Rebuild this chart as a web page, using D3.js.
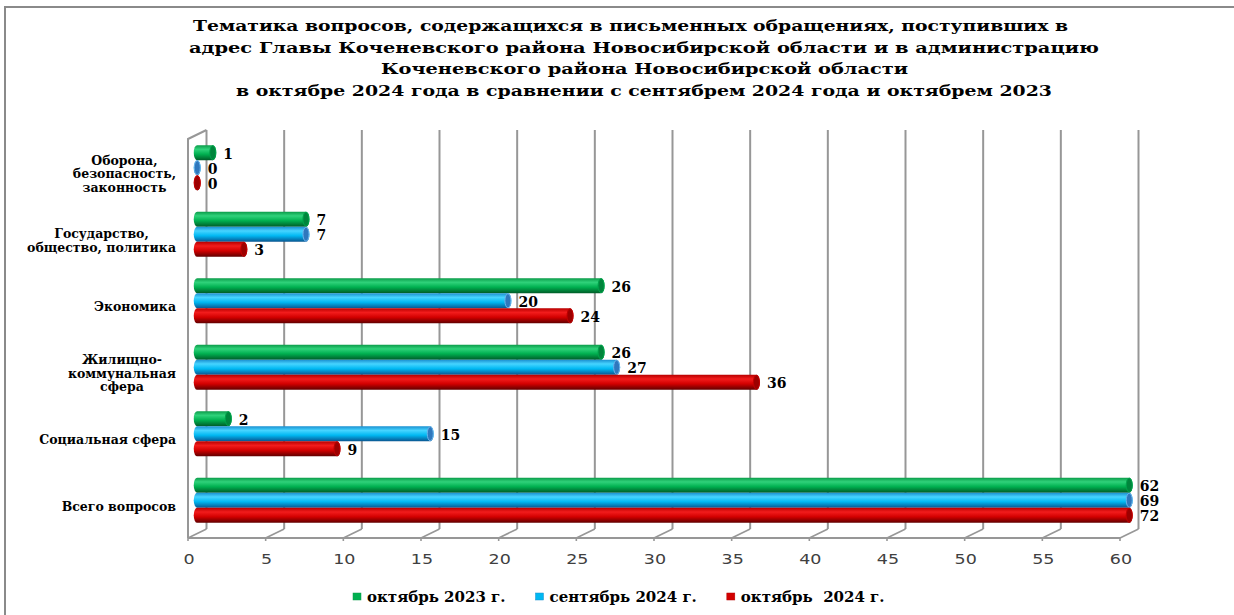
<!DOCTYPE html>
<html>
<head>
<meta charset="utf-8">
<script src="https://cdn.jsdelivr.net/npm/d3@7/dist/d3.min.js"></script>
<style>
    html, body { margin: 0; padding: 0; background: #fff; }
    svg { display: block; }
</style>
</head>
<body>
<div id="chart"></div>
<script>
// Chart data
const titleLines = [
    'Тематика вопросов, содержащихся в письменных обращениях, поступивших в',
    'адрес Главы Коченевского района Новосибирской области и в администрацию',
    'Коченевского района Новосибирской области',
    'в октябре 2024 года в сравнении с сентябрем 2024 года и октябрем 2023'
];
const categoryLines = [
    ['Оборона,', 'безопасность,', 'законность'],
    ['Государство,', 'общество, политика'],
    ['Экономика'],
    ['Жилищно-', 'коммунальная', 'сфера'],
    ['Социальная сфера'],
    ['Всего вопросов']
];
const seriesNames = ['октябрь 2023 г.', 'сентябрь 2024 г.', 'октябрь  2024 г.'];
const oct2023 = [1, 7, 26, 26, 2, 62];
const sep2024 = [0, 7, 20, 27, 15, 69];
const oct2024 = [0, 3, 24, 36, 9, 72];
const xTicks = [0, 5, 10, 15, 20, 25, 30, 35, 40, 45, 50, 55, 60];

class CylinderBarChart {
    constructor(container) {
        this.container = container;
        this.width = 1234;
        this.height = 615;
        this.series = [oct2023, sep2024, oct2024];
        // light / mid / dark / cap colours per series
        this.palette = [
            { top: '#0a9a48', hi: '#2fd27a', mid: '#00b050', low: '#005c28', cap: '#00853c', capStroke: '#00a24a' },
            { top: '#1a8fd0', hi: '#46d4ff', mid: '#00b8f2', low: '#0a5590', cap: '#2f78bd', capStroke: '#6cb2ea' },
            { top: '#b80000', hi: '#f21c1c', mid: '#d20000', low: '#5e0000', cap: '#9c0000', capStroke: '#c00000' }
        ];
        this.depthX = 18.5;
        this.depthY = -9;
        this.floorY = 538;
        this.wallTop = 139;
        this.init();
    }

    init() {
        this.setupSVG();
        this.setupScales();
        this.drawTitle();
        this.drawAxes();
        this.drawBars();
        this.drawCategoryLabels();
        this.drawLegend();
    }

    setupSVG() {
        this.container.innerHTML = '';
        this.svg = d3.select(this.container)
            .append('svg')
            .attr('width', this.width)
            .attr('height', this.height);

        // outer chart frame
        this.svg.append('rect')
            .attr('x', 5).attr('y', 7)
            .attr('width', 1260).attr('height', 640)
            .attr('fill', '#fff')
            .attr('stroke', '#8a8a8a')
            .attr('stroke-width', 2);

        this.defs = this.svg.append('defs');
        this.palette.forEach((c, i) => {
            const g = this.defs.append('linearGradient')
                .attr('id', `cyl-${i}`)
                .attr('x1', 0).attr('y1', 0).attr('x2', 0).attr('y2', 1);
            [[0, c.top], [0.28, c.hi], [0.6, c.mid], [1, c.low]].forEach(([o, col]) => {
                g.append('stop').attr('offset', o).attr('stop-color', col);
            });
        });
    }

    setupScales() {
        // front edge of the floor
        this.xFront = d3.scaleLinear().domain([0, 60]).range([188, 1120]);
        // bars sit half way into the depth
        this.xBar = v => this.xFront(Math.min(v, 60)) + this.depthX / 2;

        this.y = d3.scaleBand()
            .domain(d3.range(categoryLines.length))
            .range([134.5, 533.5])
            .paddingInner(0.32)
            .paddingOuter(0.16);

        this.ySub = d3.scaleBand()
            .domain(d3.range(this.series.length))
            .range([0, this.y.bandwidth()]);
    }

    drawTitle() {
        const starts = [193, 189, 381, 236];
        const lengths = [875, 910, 527, 816];
        this.svg.append('g')
            .selectAll('text')
            .data(titleLines)
            .join('text')
            .attr('x', (d, i) => starts[i])
            .attr('y', (d, i) => 31 + i * 21.5)
            .attr('textLength', (d, i) => lengths[i])
            .attr('lengthAdjust', 'spacingAndGlyphs')
            .attr('font-family', '"DejaVu Serif", serif')
            .attr('font-weight', 'bold')
            .attr('font-size', 14.5)
            .attr('fill', '#000')
            .text(d => d);
    }

    drawAxes() {
        const g = this.svg.append('g').attr('class', 'axes');
        const grid = '#979797';
        const xb = v => this.xFront(v) + this.depthX;
        const backBottom = this.floorY + this.depthY;
        const backTop = this.wallTop + this.depthY;

        // back wall gridlines
        g.selectAll('line.grid')
            .data(xTicks)
            .join('line')
            .attr('class', 'grid')
            .attr('x1', d => xb(d)).attr('x2', d => xb(d))
            .attr('y1', backTop).attr('y2', backBottom)
            .attr('stroke', grid).attr('stroke-width', 2);

        // floor depth lines
        g.selectAll('line.floor')
            .data(xTicks)
            .join('line')
            .attr('class', 'floor')
            .attr('x1', d => this.xFront(d)).attr('x2', d => xb(d))
            .attr('y1', this.floorY).attr('y2', backBottom)
            .attr('stroke', grid).attr('stroke-width', 1.6);

        // small ticks under the front edge
        g.selectAll('line.tick')
            .data(xTicks)
            .join('line')
            .attr('class', 'tick')
            .attr('x1', d => this.xFront(d)).attr('x2', d => this.xFront(d))
            .attr('y1', this.floorY).attr('y2', this.floorY + 3)
            .attr('stroke', grid).attr('stroke-width', 1.6);

        // front floor edge
        g.append('line')
            .attr('x1', this.xFront(0)).attr('x2', this.xFront(60))
            .attr('y1', this.floorY).attr('y2', this.floorY)
            .attr('stroke', grid).attr('stroke-width', 2);

        // left wall
        g.append('path')
            .attr('d', `M${this.xFront(0)},${this.floorY} L${this.xFront(0)},${this.wallTop} L${xb(0)},${backTop}`)
            .attr('fill', 'none')
            .attr('stroke', grid).attr('stroke-width', 2);

        // tick labels, stretched a little like the original
        g.selectAll('text.tl')
            .data(xTicks)
            .join('text')
            .attr('class', 'tl')
            .attr('transform', d => `translate(${this.xFront(d) + 1},${this.floorY + 26}) scale(1.25,1)`)
            .attr('text-anchor', 'middle')
            .attr('font-family', '"DejaVu Sans", sans-serif')
            .attr('font-size', 14)
            .attr('fill', '#404040')
            .text(d => d);
    }

    drawBars() {
        const rx = 3.5;
        const h = this.ySub.bandwidth();
        const x0 = this.xBar(0);

        const rows = [];
        categoryLines.forEach((c, ci) => {
            this.series.forEach((s, si) => {
                rows.push({ ci, si, value: s[ci] });
            });
        });

        const bar = this.svg.append('g').attr('class', 'bars')
            .selectAll('g')
            .data(rows)
            .join('g')
            .attr('transform', d => `translate(0,${this.y(d.ci) + this.ySub(d.si)})`);

        bar.append('path')
            .attr('d', d => {
                const x1 = this.xBar(d.value);
                return `M${x0},0 L${x1},0 A${rx},${h / 2} 0 0 1 ${x1},${h} ` +
                    `L${x0},${h} A${rx},${h / 2} 0 0 1 ${x0},0 Z`;
            })
            .attr('fill', d => `url(#cyl-${d.si})`);

        bar.append('ellipse')
            .attr('cx', d => this.xBar(d.value))
            .attr('cy', h / 2)
            .attr('rx', rx - 0.5)
            .attr('ry', h / 2 - 0.5)
            .attr('fill', d => this.palette[d.si].cap)
            .attr('stroke', d => this.palette[d.si].capStroke)
            .attr('stroke-width', 1);

        bar.append('text')
            .attr('x', d => this.xBar(d.value) + rx + 7)
            .attr('y', h / 2 + 1)
            .attr('dominant-baseline', 'central')
            .attr('font-family', '"DejaVu Serif", serif')
            .attr('font-weight', 'bold')
            .attr('font-size', 14)
            .attr('fill', '#000')
            .text(d => d.value);
    }

    drawCategoryLabels() {
        const right = 176;
        const lineH = 13.5;
        categoryLines.forEach((lines, ci) => {
            const g = this.svg.append('g');
            const cy = this.y(ci) + this.y.bandwidth() / 2 + 6;
            const texts = g.selectAll('text')
                .data(lines)
                .join('text')
                .attr('y', (d, i) => cy + (i - (lines.length - 1) / 2) * lineH)
                .attr('dominant-baseline', 'central')
                .attr('text-anchor', 'middle')
                .attr('font-family', '"DejaVu Serif", serif')
                .attr('font-weight', 'bold')
                .attr('font-size', 12.5)
                .attr('fill', '#000')
                .text(d => d);
            // block is right aligned, lines centred inside it
            const widest = d3.max(texts.nodes(), n => n.getComputedTextLength());
            texts.attr('x', right - widest / 2);
        });
    }

    drawLegend() {
        const g = this.svg.append('g').attr('class', 'legend');
        let x = 353;
        seriesNames.forEach((name, i) => {
            g.append('rect')
                .attr('x', x).attr('y', 593)
                .attr('width', 8).attr('height', 7)
                .attr('fill', this.palette[i].mid)
                .attr('stroke', this.palette[i].top)
                .attr('stroke-width', 0.5);
            const t = g.append('text')
                .attr('x', x + 14)
                .attr('y', 602)
                .attr('font-family', '"DejaVu Serif", serif')
                .attr('font-weight', 'bold')
                .attr('font-size', 15)
                .style('white-space', 'pre')
                .attr('fill', '#000')
                .text(name);
            x += 14 + t.node().getComputedTextLength() + 30;
        });
    }
}

new CylinderBarChart(document.getElementById('chart'));
</script>
</body>
</html>
